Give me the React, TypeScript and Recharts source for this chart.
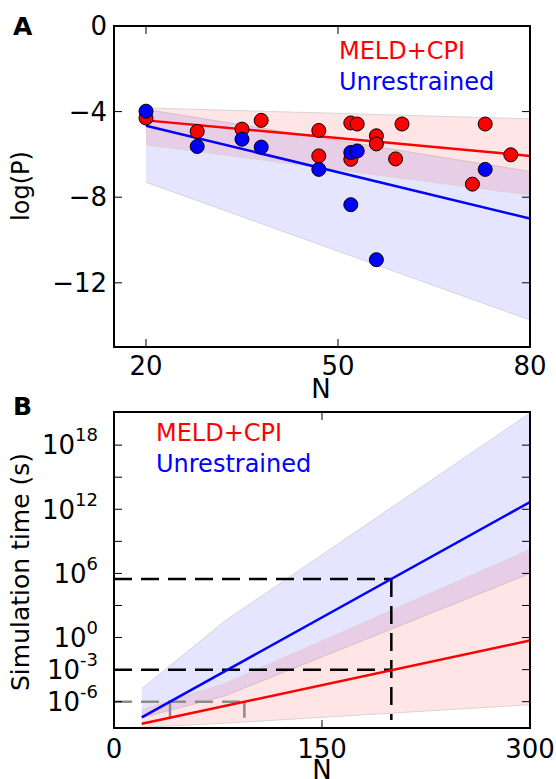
import { Area, ComposedChart, Line, ReferenceLine, Scatter, XAxis, YAxis } from 'recharts'

const FONT = '"DejaVu Sans", sans-serif'

// panel A: measured points
const redN = [20, 28, 35, 38, 47, 47, 52, 52, 53, 56, 56, 59, 60, 71, 73, 77]
const redLogP = [-4.3, -4.93, -4.82, -4.41, -4.88, -6.07, -4.53, -6.23, -4.58, -5.13, -5.51, -6.21, -4.58, -7.39, -4.58, -6.02]
const blueN = [20, 28, 35, 38, 47, 52, 52, 53, 56, 73]
const blueLogP = [-3.98, -5.63, -5.29, -5.66, -6.7, -5.91, -8.35, -5.84, -10.92, -6.7]

// panel A: fits and bands
const fitN = [20, 80]
const redFit = [-4.41, -6.07]
const blueFit = [-4.66, -9.0]
const redBandHigh = [-3.83, -4.34]
const redBandLow = [-5.55, -7.9]
const blueBandHigh = [-3.9, -6.8]
const blueBandLow = [-7.3, -13.74]

const xDomainA = [15, 80]
const yDomainA = [-15, 0]
const xTicksA = [20, 50, 80]
const yTicksA = [0, -4, -8, -12]

// panel B: extrapolated simulation time, log10 seconds
const bandN = [20, 80, 300]
const blueHigh = [-4.79, 1.55, 21.0]
const blueLow = [-7.5, -5.45, 6.0]
const redHigh = [-6.75, -4.3, 8.24]
const redLow = [-8.4, -8.01, -6.28]
const lineN = [20, 300]
const blueTime = [-7.47, 12.68]
const redTime = [-8.06, -0.28]

const xDomainB = [0, 300]
const yDomainB = [-8.46, 21.1]
const xTicksB = [0, 150, 300]
const yTicksB = [-6, -3, 0, 3, 6, 9, 12, 15, 18]
const yLabelsB = [-6, -3, 0, 6, 12, 18]

// guide lines in panel B
const guideN = 200
const guideBlue = 5.47
const guideRed = -3.0
const guideBottom = -7.7
const grayLevel = -6
const grayBlueN = 40.4
const grayRedN = 94
const grayBottom = -7.5

const redPts = redN.map((n, i) => ({ n, logP: redLogP[i] }))
const bluePts = blueN.map((n, i) => ({ n, logP: blueLogP[i] }))
const rowsA = fitN.map((n, i) => ({
  n,
  redFit: redFit[i],
  blueFit: blueFit[i],
  redBand: [redBandLow[i], redBandHigh[i]],
  blueBand: [blueBandLow[i], blueBandHigh[i]],
}))
const rowsB = bandN.map((n, i) => {
  const j = lineN.indexOf(n)
  return {
    n,
    blueBand: [blueLow[i], blueHigh[i]],
    redBand: [redLow[i], redHigh[i]],
    blueTime: j >= 0 ? blueTime[j] : null,
    redTime: j >= 0 ? redTime[j] : null,
  }
})

const W = 556
const PLOT_LEFT = 114
const PLOT_RIGHT = 530
const TICK = 8
// plot boxes in page pixels (panel B sits 400px down)
const boxA = { top: 26, bottom: 347 }
const boxB = { top: 412, bottom: 728 }

const minus = (v: number) => (v < 0 ? `\u2212${-v}` : `${v}`)
const axisLine = { stroke: '#000', strokeWidth: 2 }
const tickLine = { stroke: '#000', strokeWidth: 1 }
const tickFont = { fontSize: 26, fill: '#000', fontFamily: FONT }

const dot = (color: string) => (p: any) => (
  <circle cx={p.cx} cy={p.cy} r={7} fill={color} stroke="#000" strokeWidth={1} />
)

function PowTick(props: any) {
  const { x, y, payload } = props
  const v = payload.value
  if (!yLabelsB.includes(v)) return <g />
  return (
    <text x={x} y={y} textAnchor="end" fontFamily={FONT} fontSize={26} fill="#000">
      <tspan dy="0.36em">10</tspan>
      <tspan dy={-13} fontSize={18}>
        {v}
      </tspan>
    </text>
  )
}

// full matplotlib-style box, with inward ticks on the top and right edges
function Frame({ box, xDom, yDom, xTicks, yTicks }: any) {
  const sx = (v: number) => PLOT_LEFT + ((v - xDom[0]) / (xDom[1] - xDom[0])) * (PLOT_RIGHT - PLOT_LEFT)
  const sy = (v: number) => box.bottom - ((v - yDom[0]) / (yDom[1] - yDom[0])) * (box.bottom - box.top)
  return (
    <g>
      <rect
        x={PLOT_LEFT}
        y={box.top}
        width={PLOT_RIGHT - PLOT_LEFT}
        height={box.bottom - box.top}
        fill="none"
        stroke="#000"
        strokeWidth={2}
      />
      {xTicks
        .filter((t: number) => t > xDom[0] && t < xDom[1])
        .map((t: number) => (
          <path key={`x${t}`} d={`M${sx(t)},${box.top}V${box.top + TICK}`} stroke="#000" strokeWidth={1} fill="none" />
        ))}
      {yTicks
        .filter((t: number) => t > yDom[0] && t < yDom[1])
        .map((t: number) => (
          <path key={`y${t}`} d={`M${PLOT_RIGHT - TICK},${sy(t)}H${PLOT_RIGHT}`} stroke="#000" strokeWidth={1} fill="none" />
        ))}
    </g>
  )
}

function PanelA() {
  return (
    <ComposedChart width={W} height={400} data={rowsA} margin={{ top: boxA.top, right: W - PLOT_RIGHT, bottom: 0, left: 0 }}>
      <XAxis
        type="number"
        dataKey="n"
        domain={xDomainA}
        allowDataOverflow
        ticks={xTicksA}
        interval={0}
        height={400 - boxA.bottom}
        tickSize={-TICK}
        tickMargin={18}
        axisLine={axisLine}
        tickLine={tickLine}
        tick={tickFont}
      />
      <YAxis
        type="number"
        domain={yDomainA}
        allowDataOverflow
        ticks={yTicksA}
        interval={0}
        width={PLOT_LEFT}
        tickSize={-TICK}
        tickMargin={15}
        tickFormatter={minus}
        axisLine={axisLine}
        tickLine={tickLine}
        tick={tickFont}
      />
      <Area dataKey="blueBand" type="linear" fill="#0000ff" fillOpacity={0.1} stroke="#d4d4dc" strokeWidth={1} isAnimationActive={false} />
      <Area dataKey="redBand" type="linear" fill="#ff0000" fillOpacity={0.1} stroke="#dcd4d4" strokeWidth={1} isAnimationActive={false} />
      <Line dataKey="redFit" type="linear" stroke="#ff0000" strokeWidth={2.5} dot={false} isAnimationActive={false} />
      <Line dataKey="blueFit" type="linear" stroke="#0000ff" strokeWidth={2.5} dot={false} isAnimationActive={false} />
      <Scatter data={redPts} dataKey="logP" shape={dot('#ff0000')} isAnimationActive={false} />
      <Scatter data={bluePts} dataKey="logP" shape={dot('#0000ff')} isAnimationActive={false} />
    </ComposedChart>
  )
}

function PanelB() {
  const dash = '18 9'
  const top = boxB.top - 400
  const bottom = boxB.bottom - 400
  return (
    <ComposedChart width={W} height={379} data={rowsB} margin={{ top, right: W - PLOT_RIGHT, bottom: 0, left: 0 }}>
      <XAxis
        type="number"
        dataKey="n"
        domain={xDomainB}
        allowDataOverflow
        ticks={xTicksB}
        interval={0}
        height={379 - bottom}
        tickSize={-TICK}
        tickMargin={20}
        axisLine={axisLine}
        tickLine={tickLine}
        tick={tickFont}
      />
      <YAxis
        type="number"
        domain={yDomainB}
        allowDataOverflow
        ticks={yTicksB}
        interval={0}
        width={PLOT_LEFT}
        tickSize={-TICK}
        tickMargin={24}
        axisLine={axisLine}
        tickLine={tickLine}
        tick={<PowTick />}
      />
      <Area dataKey="blueBand" type="linear" fill="#0000ff" fillOpacity={0.1} stroke="#d4d4dc" strokeWidth={1} isAnimationActive={false} />
      <Area dataKey="redBand" type="linear" fill="#ff0000" fillOpacity={0.1} stroke="#dcd4d4" strokeWidth={1} isAnimationActive={false} />
      <ReferenceLine segment={[{ x: 0, y: grayLevel }, { x: grayRedN, y: grayLevel }]} stroke="#8c8c8c" strokeWidth={2.5} strokeDasharray={dash} />
      <ReferenceLine segment={[{ x: grayBlueN, y: grayLevel }, { x: grayBlueN, y: grayBottom }]} stroke="#8c8c8c" strokeWidth={2.5} strokeDasharray={dash} />
      <ReferenceLine segment={[{ x: grayRedN, y: grayLevel }, { x: grayRedN, y: grayBottom }]} stroke="#8c8c8c" strokeWidth={2.5} strokeDasharray={dash} />
      <ReferenceLine segment={[{ x: 0, y: guideBlue }, { x: guideN, y: guideBlue }]} stroke="#000" strokeWidth={2.5} strokeDasharray={dash} />
      <ReferenceLine segment={[{ x: 0, y: guideRed }, { x: guideN, y: guideRed }]} stroke="#000" strokeWidth={2.5} strokeDasharray={dash} />
      <ReferenceLine segment={[{ x: guideN, y: guideBlue }, { x: guideN, y: guideBottom }]} stroke="#000" strokeWidth={2.5} strokeDasharray={dash} />
      <Line dataKey="blueTime" type="linear" connectNulls stroke="#0000ff" strokeWidth={2.5} dot={false} isAnimationActive={false} />
      <Line dataKey="redTime" type="linear" connectNulls stroke="#ff0000" strokeWidth={2.5} dot={false} isAnimationActive={false} />
    </ComposedChart>
  )
}

export default function App() {
  return (
    <div style={{ position: 'absolute', left: 0, top: 0, width: W, height: 779, background: '#fff', overflow: 'hidden' }}>
      <div style={{ position: 'absolute', left: 0, top: 0 }}>
        <PanelA />
      </div>
      <div style={{ position: 'absolute', left: 0, top: 400 }}>
        <PanelB />
      </div>
      <svg
        width={W}
        height={779}
        viewBox={`0 0 ${W} 779`}
        style={{ position: 'absolute', left: 0, top: 0, pointerEvents: 'none', zIndex: 2 }}
        fontFamily={FONT}
      >
        <Frame box={boxA} xDom={xDomainA} yDom={yDomainA} xTicks={xTicksA} yTicks={yTicksA} />
        <Frame box={boxB} xDom={xDomainB} yDom={yDomainB} xTicks={xTicksB} yTicks={yTicksB} />
        <text x={13} y={35} fontSize={25} fontWeight="bold">A</text>
        <text x={13} y={415} fontSize={25} fontWeight="bold">B</text>
        <text transform="translate(29,186) rotate(-90)" textAnchor="middle" fontSize={24}>log(P)</text>
        <text transform="translate(29,572) rotate(-90)" textAnchor="middle" fontSize={25}>Simulation time (s)</text>
        <text x={321} y={398} textAnchor="middle" fontSize={26}>N</text>
        <text x={322} y={779} textAnchor="middle" fontSize={26}>N</text>
        <text x={339} y={59} fontSize={24} fill="#ff0000">MELD+CPI</text>
        <text x={339} y={90} fontSize={24} fill="#0000ff">Unrestrained</text>
        <text x={156} y={441} fontSize={24} fill="#ff0000">MELD+CPI</text>
        <text x={156} y={472} fontSize={24} fill="#0000ff">Unrestrained</text>
      </svg>
    </div>
  )
}
